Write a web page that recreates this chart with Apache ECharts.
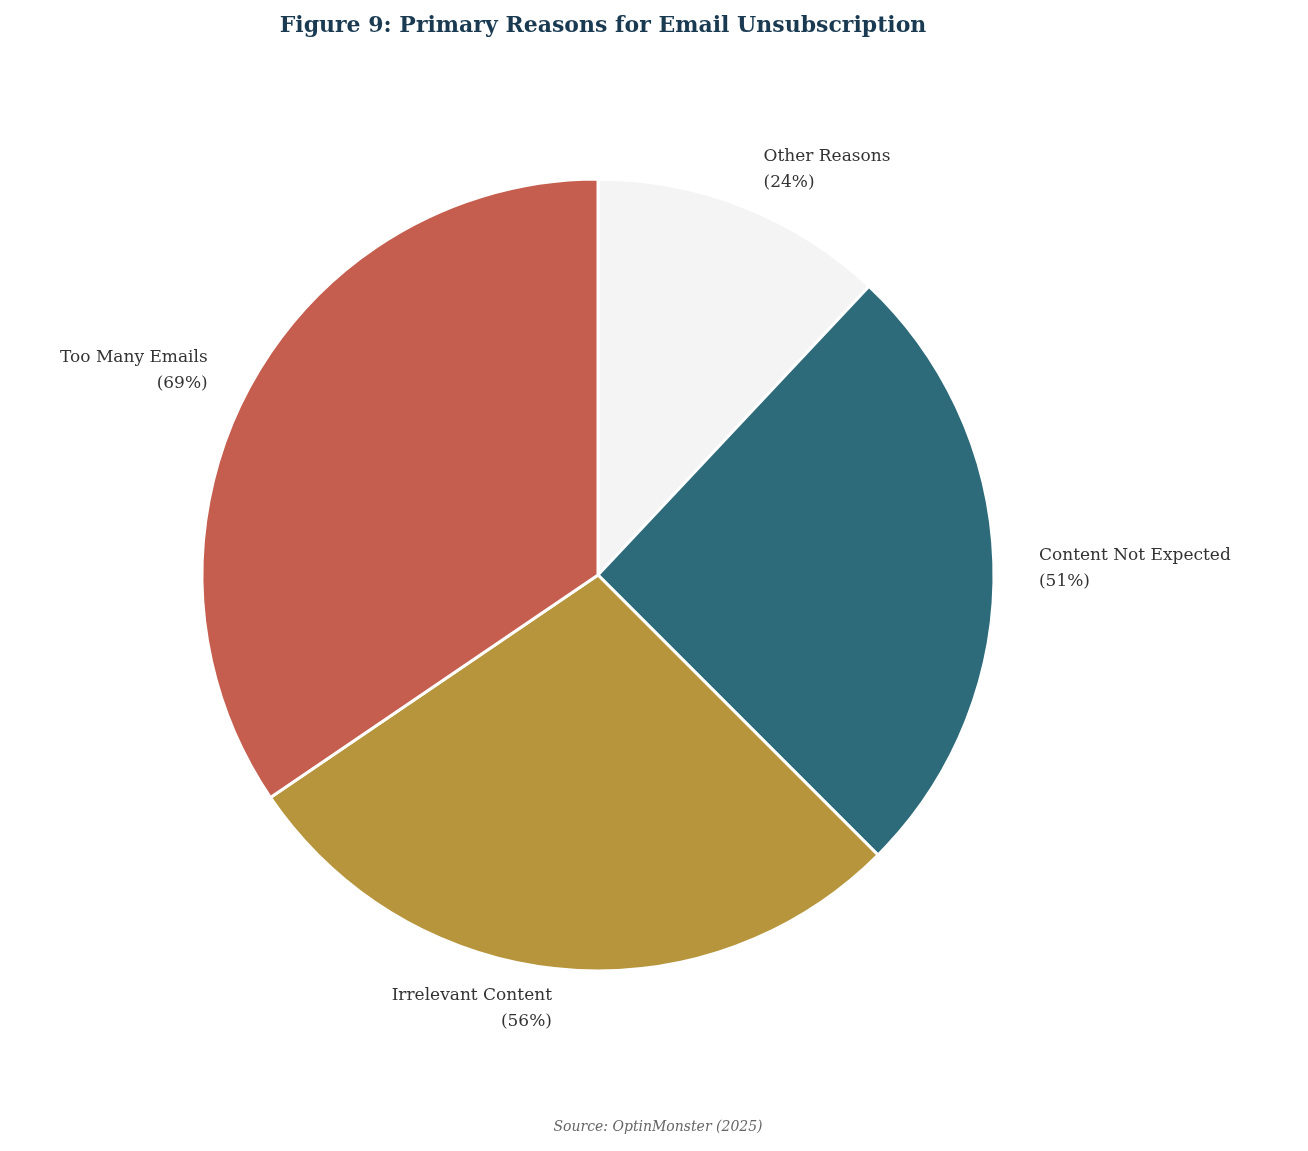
<!DOCTYPE html>
<html><head><meta charset="utf-8">
<script src="https://cdn.jsdelivr.net/npm/echarts@6/dist/echarts.min.js"></script>
<style>html,body{margin:0;padding:0;background:#fff}#c{width:1308px;height:1151px}</style>
</head><body><div id="c"></div>
<script>
const categories = ["Other Reasons", "Content Not Expected", "Irrelevant Content", "Too Many Emails"];
const values = [24, 51, 56, 69];
const colors = ["#f4f4f4", "#2e6b7a", "#b7953d", "#c55e4e"];
const chart = echarts.init(document.getElementById('c'));
chart.setOption({
  backgroundColor: '#fff',
  title: [{
    text: 'Figure 9: Primary Reasons for Email Unsubscription',
    left: 598, top: 10, textAlign: 'center',
    textStyle: {fontFamily: 'DejaVu Serif', fontWeight: 'bold', fontSize: 22, color: '#1a3a52'}
  }, {
    text: 'Source: OptinMonster (2025)',
    left: 653, top: 1115, textAlign: 'center',
    textStyle: {fontFamily: 'DejaVu Serif', fontStyle: 'italic', fontWeight: 'normal', fontSize: 14, color: '#666'}
  }],
  series: [{
    type: 'pie',
    center: [598, 575],
    radius: 396,
    startAngle: 90,
    clockwise: true,
    animation: false,
    itemStyle: {borderColor: '#fff', borderWidth: 3},
    label: {
      show: true, position: 'outside',
      fontFamily: 'DejaVu Serif', fontSize: 17, color: '#333', lineHeight: 26,
      formatter: p => p.name + '\n(' + p.value + '%)'
    },
    labelLine: {show: false, length: 40, length2: 0},
    data: categories.map((n, i) => ({name: n, value: values[i], itemStyle: {color: colors[i]}}))
  }]
});
</script></body></html>
